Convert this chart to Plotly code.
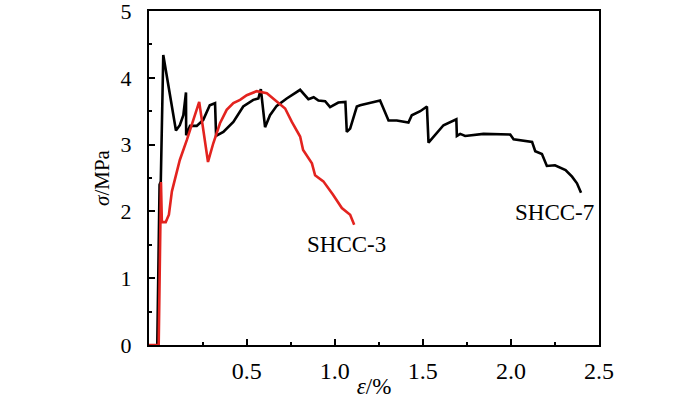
import plotly.graph_objects as go

# SHCC-7 (black) strain (%) and stress (MPa)
shcc7_strain = [-0.008, 0.005, 0.012, 0.026, 0.098, 0.12, 0.14, 0.155, 0.156, 0.178, 0.216, 0.253, 0.29, 0.32,
                0.326, 0.367, 0.424, 0.48, 0.537, 0.566, 0.58, 0.604, 0.632, 0.67, 0.727, 0.803,
                0.85, 0.88, 0.907, 0.945, 0.973, 1.02, 1.06, 1.068, 1.087, 1.125, 1.144, 1.257,
                1.305, 1.352, 1.418, 1.437, 1.485, 1.523, 1.532, 1.58, 1.617, 1.69, 1.693, 1.712,
                1.74, 1.844, 1.996, 2.015, 2.12, 2.138, 2.176, 2.204, 2.25, 2.31, 2.347, 2.375, 2.398]
shcc7_stress = [0.0, 2.4, 2.45, 4.34, 3.21, 3.29, 3.44, 3.78, 3.14, 3.28, 3.28, 3.37, 3.59, 3.62,
                3.13, 3.19, 3.34, 3.57, 3.67, 3.69, 3.83, 3.26, 3.44, 3.58, 3.69, 3.82,
                3.68, 3.71, 3.66, 3.65, 3.56, 3.63, 3.64, 3.19, 3.24, 3.57, 3.59, 3.66,
                3.36, 3.36, 3.33, 3.44, 3.50, 3.57, 3.03, 3.18, 3.29, 3.38, 3.13, 3.16,
                3.13, 3.16, 3.15, 3.08, 3.04, 2.90, 2.86, 2.68, 2.69, 2.62, 2.52, 2.42, 2.28]

# SHCC-3 (red)
shcc3_strain = [-0.055, 0.0, 0.013, 0.018, 0.04, 0.058, 0.075, 0.12, 0.16, 0.197, 0.23, 0.28, 0.31,
                0.348, 0.386, 0.424, 0.462, 0.5, 0.557, 0.614, 0.67, 0.718, 0.756, 0.803,
                0.82, 0.87, 0.888, 0.935, 0.99, 1.04, 1.087, 1.11]
shcc3_stress = [0.0, 0.0, 2.44, 1.84, 1.84, 1.95, 2.30, 2.77, 3.07, 3.37, 3.64, 2.74, 3.02,
                3.32, 3.52, 3.62, 3.67, 3.74, 3.80, 3.77, 3.64, 3.54, 3.34, 3.12,
                2.92, 2.72, 2.54, 2.45, 2.25, 2.05, 1.95, 1.80]

x_ticks = [0.5, 1.0, 1.5, 2.0, 2.5]
x_ticklabels = ["0.5", "1.0", "1.5", "2.0", "2.5"]
x_minor = [0.25, 0.75, 1.25, 1.75, 2.25]
y_ticks = [0, 1, 2, 3, 4, 5]
y_minor = [0.5, 1.5, 2.5, 3.5, 4.5]

FONT = "Liberation Serif"

fig = go.Figure()
fig.add_trace(go.Scatter(x=shcc7_strain, y=shcc7_stress, mode="lines",
                         line=dict(color="#000000", width=2.6), name="SHCC-7"))
fig.add_trace(go.Scatter(x=shcc3_strain, y=shcc3_stress, mode="lines",
                         line=dict(color="#e3231f", width=2.6), name="SHCC-3"))

fig.add_annotation(x=1.064, y=1.50, text="SHCC-3", showarrow=False,
                   font=dict(family=FONT, size=23, color="#000"))
fig.add_annotation(x=2.247, y=1.98, text="SHCC-7", showarrow=False,
                   font=dict(family=FONT, size=23, color="#000"))

fig.update_layout(
    width=700, height=399,
    margin=dict(l=149, r=101, t=11, b=54),
    paper_bgcolor="white", plot_bgcolor="white",
    showlegend=False,
    font=dict(family=FONT, size=23, color="#000"),
    xaxis=dict(range=[-0.055, 2.5], tickvals=x_ticks, ticktext=x_ticklabels,
               automargin=False, ticklabeloverflow="allow",
               ticks="inside", ticklen=6, tickwidth=1.5, tickcolor="#000",
               showline=True, linecolor="#000", linewidth=2, mirror=True,
               showgrid=False, zeroline=False, ticklabelstandoff=3,
               minor=dict(tickvals=x_minor, ticks="inside", ticklen=3, tickwidth=1.5, tickcolor="#000"),
               title=dict(text="<i>ε</i>/%", font=dict(family=FONT, size=23, color="#000"), standoff=3),
               tickfont=dict(family=FONT, size=24, color="#000")),
    yaxis=dict(range=[0, 5], tickvals=y_ticks,
               automargin=False, ticklabeloverflow="allow",
               ticks="inside", ticklen=6, tickwidth=1.5, tickcolor="#000",
               showline=True, linecolor="#000", linewidth=2, mirror=True,
               showgrid=False, zeroline=False, ticklabelstandoff=11,
               minor=dict(tickvals=y_minor, ticks="inside", ticklen=3, tickwidth=1.5, tickcolor="#000"),
               title=dict(text="<i>σ</i>/MPa", font=dict(family=FONT, size=21, color="#000"), standoff=5),
               tickfont=dict(family=FONT, size=22, color="#000")),
)

fig.write_html("out.html", config={"displayModeBar": False},
               post_script="document.body.style.margin='0';")
